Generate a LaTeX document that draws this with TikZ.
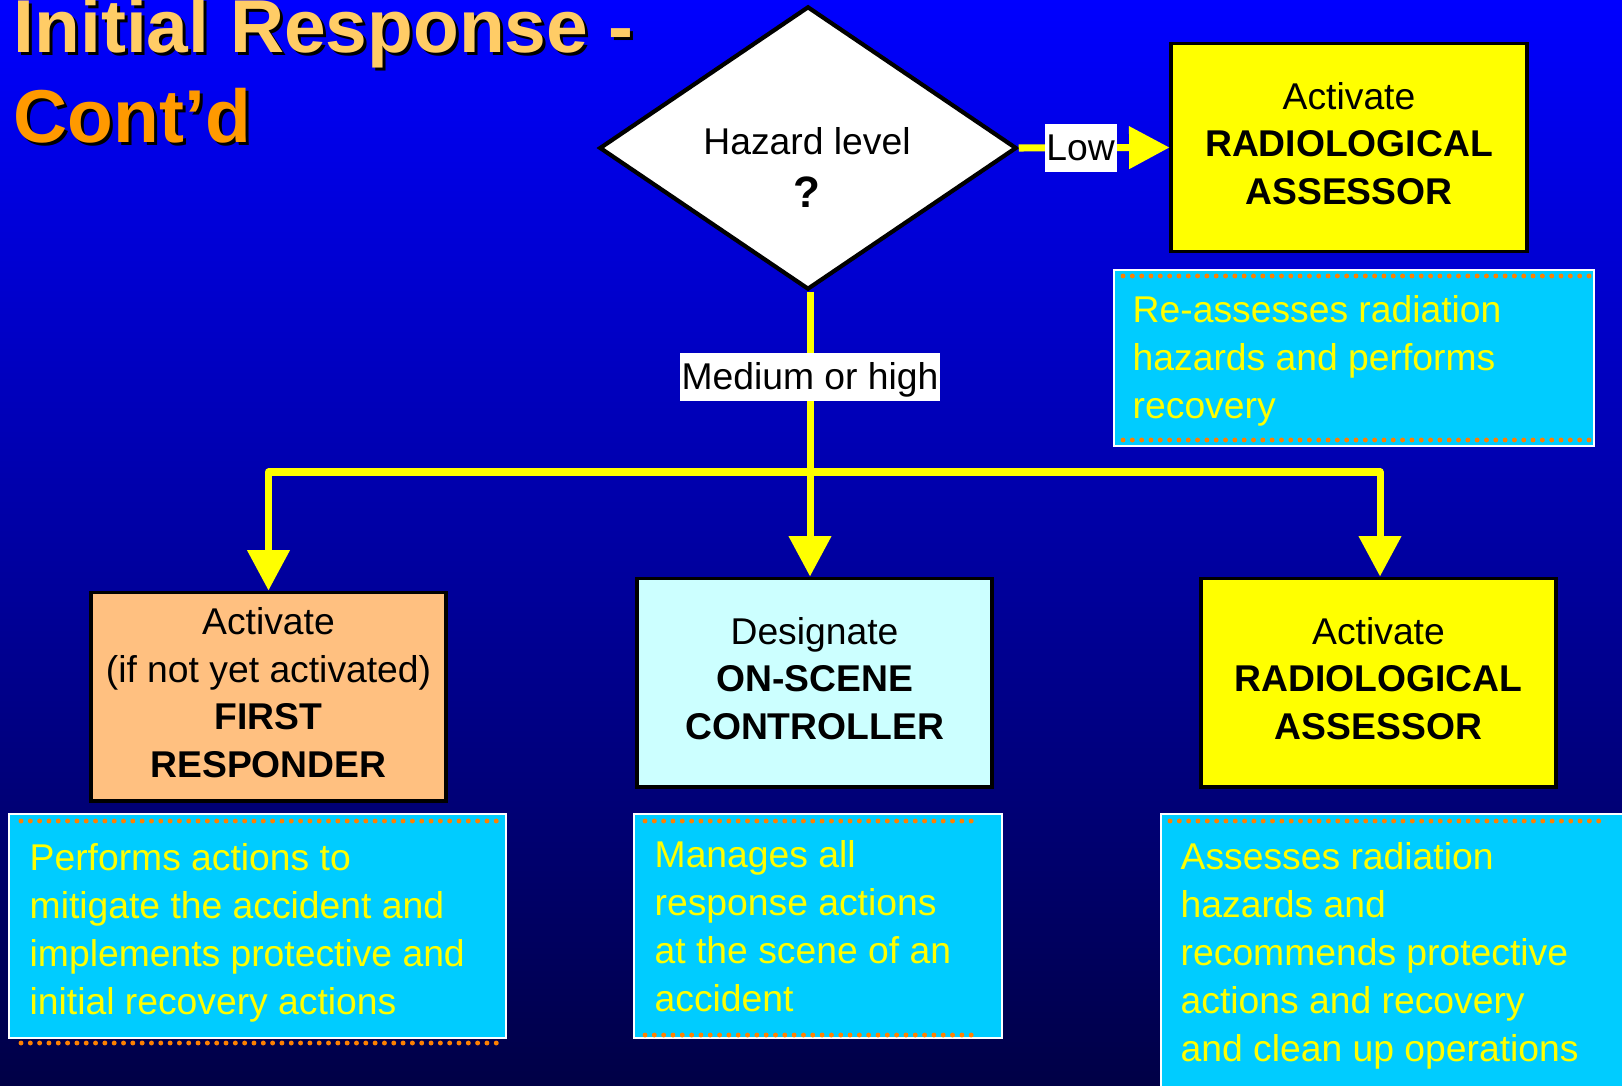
\documentclass[tikz,border=0pt]{standalone}
\usepackage{fontspec}
\setmainfont{Liberation Sans}
\usetikzlibrary{arrows.meta,shapes.geometric}
\definecolor{bgtop}{RGB}{0,0,255}
\definecolor{bgmid}{RGB}{0,0,192}
\definecolor{bgbot}{RGB}{0,0,70}
\definecolor{titlea}{RGB}{255,204,102}
\definecolor{titleb}{RGB}{255,153,0}
\definecolor{boxyellow}{RGB}{255,255,0}
\definecolor{boxorange}{RGB}{255,192,128}
\definecolor{boxlight}{RGB}{204,255,255}
\definecolor{desccyan}{RGB}{0,204,255}
\definecolor{dotorange}{RGB}{255,128,0}
\newcommand{\lastlift}{\rule[-2.3pt]{0pt}{0pt}}
\begin{document}
\begin{tikzpicture}[x=0.01cm,y=-0.01cm,
  actbox/.style={draw=black, line width=1.1pt, inner sep=0pt, align=center,
    font=\fontsize{10.6pt}{13.5pt}\selectfont, text=black,
    minimum width=3.55cm, minimum height=2.08cm},
  descbox/.style={fill=desccyan, draw=white, line width=0.6pt, inner sep=0pt},
  desctext/.style={anchor=north west, inner sep=0pt, align=left, text=boxyellow,
    font=\fontsize{10.6pt}{13.65pt}\selectfont},
  dotline/.style={draw=dotorange, line width=1.4pt, line cap=round, dash pattern=on 0pt off 2.65pt},
  flow/.style={draw=boxyellow, line width=2pt, line join=round, -{Triangle[length=11.5pt,width=11.7pt]}},
  lbl/.style={fill=white, text=black, inner xsep=0.5pt, inner ysep=0.9pt,
    text height=9.6pt, text depth=2.3pt, font=\fontsize{10.6pt}{13.2pt}\selectfont},
  ttl/.style={anchor=base west, inner sep=0pt, font=\fontsize{21.3pt}{26pt}\selectfont\bfseries}
]
\clip (0,0) rectangle (1622,1085);
\shade[top color=bgtop, middle color=bgmid, bottom color=bgbot] (0,0) rectangle (1622,1085);

% title
\node[ttl, text=black] (t1s) at (16,56) {Initial Response -};
\node[ttl, text=titlea] (t1) at (13,53) {Initial Response -};
\node[ttl, text=black] (t2s) at (16,146) {Cont’d};
\node[ttl, text=titleb] (t2) at (13,143) {Cont’d};

% decision
\node[diamond, draw=black, fill=white, line width=1.2pt, inner sep=0pt, aspect=1.48,
  minimum width=4.17cm, minimum height=2.83cm] (dia) at (808,148) {};
\node[anchor=base, inner sep=0pt, font=\fontsize{10.6pt}{13.2pt}\selectfont] (dtext1) at (807,154.5) {Hazard level};
\node[anchor=base, inner sep=0pt, font=\fontsize{12.5pt}{13pt}\selectfont\bfseries] (dtext2) at (807,207.5) {?};

% boxes
\node[actbox, fill=boxyellow] (ra1) at (1349,147.5) {Activate\\\textbf{RADIOLOGICAL}\\\textbf{ASSESSOR}\lastlift};
\node[actbox, fill=boxorange] (fr) at (268.5,696.5) {Activate\\(if not yet activated)\\\textbf{FIRST}\\\textbf{RESPONDER}\lastlift};
\node[actbox, fill=boxlight] (ctrl) at (814.5,682.5) {Designate\\\textbf{ON-SCENE}\\\textbf{CONTROLLER}\lastlift};
\node[actbox, fill=boxyellow] (ra2) at (1378.5,682.5) {Activate\\\textbf{RADIOLOGICAL}\\\textbf{ASSESSOR}\lastlift};

% descriptions
\node[descbox, minimum width=4.8cm, minimum height=1.76cm] (ra1d) at (1354,358) {};
\node[desctext] (ra1t) at (1132,295) {Re-assesses radiation\\hazards and performs\\recovery};
\node[descbox, minimum width=4.97cm, minimum height=2.24cm] (frd) at (257.5,926) {};
\node[desctext] (frt) at (29,843) {Performs actions to\\mitigate the accident and\\implements protective and\\initial recovery actions};
\node[descbox, minimum width=3.68cm, minimum height=2.24cm] (ctrld) at (818,926) {};
\node[desctext] (ctrlt) at (654,840) {Manages all\\response actions\\at the scene of an\\accident};
\node[descbox, minimum width=4.79cm, minimum height=2.75cm] (ra2d) at (1400.5,951.5) {};
\node[desctext] (ra2t) at (1180,842) {Assesses radiation\\hazards and\\recommends protective\\actions and recovery\\and clean up operations};

% dotted rules
\draw[dotline] (1123,276) -- (1590,276);
\draw[dotline] (1123,440) -- (1590,440);
\draw[dotline] (21,821) -- (497,821);
\draw[dotline] (21,1043) -- (497,1043);
\draw[dotline] (645,821) -- (980,821);
\draw[dotline] (645,1035) -- (980,1035);
\draw[dotline] (1170,821) -- (1607,821);

% connectors
\draw[flow] (dia.east) -- node[lbl, pos=0.41] (lowlbl) {Low} (ra1.west);
\coordinate (junc) at (810,472);
\draw[flow] ([xshift=0.02cm]dia.south) -- node[lbl, pos=0.3] (medlbl) {Medium or high} ([xshift=0.02cm]dia.south |- ctrl.north);
\draw[flow] (junc) -| (fr.north);
\draw[flow] (junc) -| ([xshift=0.015cm]ra2.north);
\end{tikzpicture}
\end{document}
